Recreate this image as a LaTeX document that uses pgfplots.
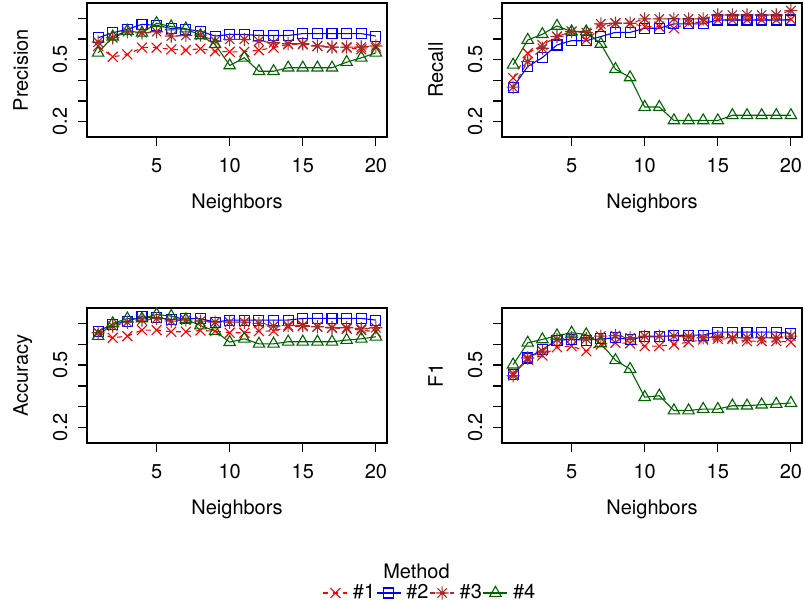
\documentclass[border=0pt]{standalone}
\usepackage{fontspec}
\setmainfont{TeX Gyre Heros}
\usepackage{pgfplots}
\usepackage{pgfplotstable}
\pgfplotsset{compat=1.18}

\definecolor{rred}{HTML}{FF0000}
\definecolor{rblue}{HTML}{0000FF}
\definecolor{rbrown}{HTML}{A52A2A}
\definecolor{rgreen}{HTML}{006400}

% R pch 8: plus and cross overlaid
\pgfdeclareplotmark{pch8}{%
  \pgfpathmoveto{\pgfqpoint{-\pgfplotmarksize}{0pt}}\pgfpathlineto{\pgfqpoint{\pgfplotmarksize}{0pt}}%
  \pgfpathmoveto{\pgfqpoint{0pt}{-\pgfplotmarksize}}\pgfpathlineto{\pgfqpoint{0pt}{\pgfplotmarksize}}%
  \pgfpathmoveto{\pgfqpoint{-.7071\pgfplotmarksize}{-.7071\pgfplotmarksize}}\pgfpathlineto{\pgfqpoint{.7071\pgfplotmarksize}{.7071\pgfplotmarksize}}%
  \pgfpathmoveto{\pgfqpoint{-.7071\pgfplotmarksize}{.7071\pgfplotmarksize}}\pgfpathlineto{\pgfqpoint{.7071\pgfplotmarksize}{-.7071\pgfplotmarksize}}%
  \pgfusepathqstroke}

% columns: neighbors, method 1..4
\pgfplotstableread{
x m1 m2 m3 m4
1 0.566 0.606 0.585 0.533
2 0.514 0.630 0.606 0.611
3 0.525 0.647 0.635 0.639
4 0.558 0.671 0.630 0.630
5 0.558 0.666 0.635 0.676
6 0.550 0.651 0.614 0.660
7 0.546 0.647 0.617 0.650
8 0.553 0.638 0.619 0.617
9 0.541 0.614 0.590 0.574
10 0.538 0.622 0.598 0.472
11 0.538 0.622 0.598 0.509
12 0.546 0.617 0.590 0.444
13 0.558 0.617 0.582 0.444
14 0.574 0.617 0.577 0.461
15 0.574 0.626 0.577 0.461
16 0.566 0.626 0.566 0.461
17 0.558 0.626 0.561 0.461
18 0.558 0.626 0.561 0.488
19 0.550 0.626 0.561 0.509
20 0.558 0.614 0.566 0.533
}\precision

\pgfplotstableread{
x m1 m2 m3 m4
1 0.411 0.367 0.367 0.475
2 0.531 0.467 0.491 0.595
3 0.571 0.510 0.555 0.623
4 0.612 0.571 0.612 0.663
5 0.636 0.592 0.636 0.636
6 0.596 0.591 0.632 0.636
7 0.652 0.612 0.673 0.576
8 0.676 0.632 0.676 0.454
9 0.676 0.632 0.676 0.414
10 0.660 0.652 0.697 0.271
11 0.660 0.652 0.697 0.271
12 0.652 0.673 0.697 0.206
13 0.676 0.673 0.697 0.206
14 0.684 0.673 0.697 0.206
15 0.692 0.692 0.716 0.206
16 0.692 0.692 0.716 0.231
17 0.692 0.692 0.716 0.231
18 0.692 0.692 0.716 0.231
19 0.692 0.692 0.716 0.231
20 0.695 0.692 0.737 0.231
}\recall

\pgfplotstableread{
x m1 m2 m3 m4
1 0.655 0.663 0.655 0.639
2 0.631 0.695 0.687 0.700
3 0.639 0.711 0.706 0.723
4 0.668 0.732 0.716 0.723
5 0.668 0.727 0.723 0.743
6 0.660 0.719 0.711 0.735
7 0.660 0.723 0.716 0.719
8 0.666 0.723 0.711 0.690
9 0.663 0.706 0.706 0.663
10 0.655 0.716 0.706 0.610
11 0.655 0.716 0.706 0.626
12 0.663 0.716 0.700 0.602
13 0.663 0.716 0.687 0.602
14 0.684 0.716 0.690 0.612
15 0.687 0.724 0.690 0.612
16 0.684 0.724 0.684 0.612
17 0.679 0.724 0.679 0.612
18 0.674 0.724 0.679 0.620
19 0.668 0.724 0.674 0.626
20 0.660 0.716 0.679 0.636
}\accuracy

\pgfplotstableread{
x m1 m2 m3 m4
1 0.459 0.454 0.449 0.502
2 0.526 0.534 0.534 0.607
3 0.546 0.575 0.567 0.623
4 0.586 0.620 0.623 0.642
5 0.591 0.623 0.631 0.655
6 0.567 0.620 0.626 0.647
7 0.599 0.626 0.639 0.604
8 0.607 0.631 0.642 0.523
9 0.604 0.623 0.631 0.481
10 0.591 0.636 0.639 0.346
11 0.591 0.636 0.639 0.353
12 0.599 0.642 0.639 0.282
13 0.610 0.644 0.636 0.282
14 0.623 0.644 0.631 0.289
15 0.626 0.658 0.636 0.289
16 0.626 0.658 0.631 0.305
17 0.615 0.658 0.631 0.305
18 0.615 0.658 0.631 0.310
19 0.615 0.658 0.631 0.313
20 0.610 0.652 0.639 0.318
}\fone

\pgfplotsset{
  rpanel/.style={
    scale only axis,
    width=150pt,
    anchor=south west,
    xmin=0.24, xmax=20.76,
    ymin=0.126, ymax=0.774,
    xtick={5,10,15,20},
    ytick={0.2,0.3,0.4,0.5,0.6,0.7},
    yticklabels={0.2,,,0.5,,},
    tick pos=left,
    tick align=outside,
    major tick length=4.5pt,
    axis line style={line width=0.6pt},
    tick style={line width=0.6pt, black},
    /pgf/number format/assume math mode=true,
    xticklabel style={anchor=base},
    xticklabel shift=13pt,
    yticklabel style={rotate=90, anchor=base},
    yticklabel shift=5.5pt,
    xlabel={Neighbors},
    xlabel style={at={(axis description cs:0.5,-0.53)}, anchor=base},
    ylabel style={at={(axis description cs:-0.197,0.5)}, anchor=base},
    clip=false,
    legend image code/.code={%
      \draw[mark repeat=2,mark phase=2] plot coordinates {(0pt,0pt) (6pt,0pt) (12pt,0pt)};},
  },
  s1/.style={rred, line width=0.55pt, dash pattern=on 2.5pt off 2.5pt, mark=x, mark size=3.5pt, mark options={solid}},
  s2/.style={rblue, line width=0.55pt, mark=square, mark size=2.5pt},
  s3/.style={rbrown, line width=0.55pt, dash pattern=on 2.5pt off 2.5pt, mark=pch8, mark size=3.3pt, mark options={solid}},
  s4/.style={rgreen, line width=0.55pt, mark=triangle, mark size=3.3pt},
}

\begin{document}
\begin{tikzpicture}[font=\fontsize{10}{12}\selectfont]
\path[use as bounding box] (0,0) rectangle (402pt,-303pt);

\begin{axis}[rpanel, at={(43.5pt,-68.5pt)}, height=67pt, ylabel={Precision}]
  \addplot[s1] table[x=x,y=m1] {\precision};
  \addplot[s2] table[x=x,y=m2] {\precision};
  \addplot[s3] table[x=x,y=m3] {\precision};
  \addplot[s4] table[x=x,y=m4] {\precision};
\end{axis}

\begin{axis}[rpanel, at={(251pt,-68.5pt)}, height=67pt, ylabel={Recall}]
  \addplot[s1] table[x=x,y=m1] {\recall};
  \addplot[s2] table[x=x,y=m2] {\recall};
  \addplot[s3] table[x=x,y=m3] {\recall};
  \addplot[s4] table[x=x,y=m4] {\recall};
\end{axis}

\begin{axis}[rpanel, at={(43.5pt,-221.5pt)}, height=67.5pt, ylabel={Accuracy}]
  \addplot[s1] table[x=x,y=m1] {\accuracy};
  \addplot[s2] table[x=x,y=m2] {\accuracy};
  \addplot[s3] table[x=x,y=m3] {\accuracy};
  \addplot[s4] table[x=x,y=m4] {\accuracy};
\end{axis}

\begin{axis}[rpanel, at={(251pt,-221.5pt)}, height=67.5pt, ylabel={F1},
  legend columns=4,
  legend style={at={(axis description cs:-0.597,-1.111)}, anchor=west,
    draw=none, fill=none, inner sep=0pt, outer sep=0pt,
    nodes={inner sep=0pt, anchor=west},
    /tikz/every odd column/.append style={column sep=2.5pt},
    /tikz/every even column/.append style={column sep=0.5pt}}]
  \addplot[s1] table[x=x,y=m1] {\fone};
  \addplot[s2] table[x=x,y=m2] {\fone};
  \addplot[s3] table[x=x,y=m3] {\fone};
  \addplot[s4] table[x=x,y=m4] {\fone};
  \legend{\#1,\#2,\#3,\#4}
\end{axis}

\node[anchor=base] at (208.25pt,-289pt) {Method};
\end{tikzpicture}
\end{document}
